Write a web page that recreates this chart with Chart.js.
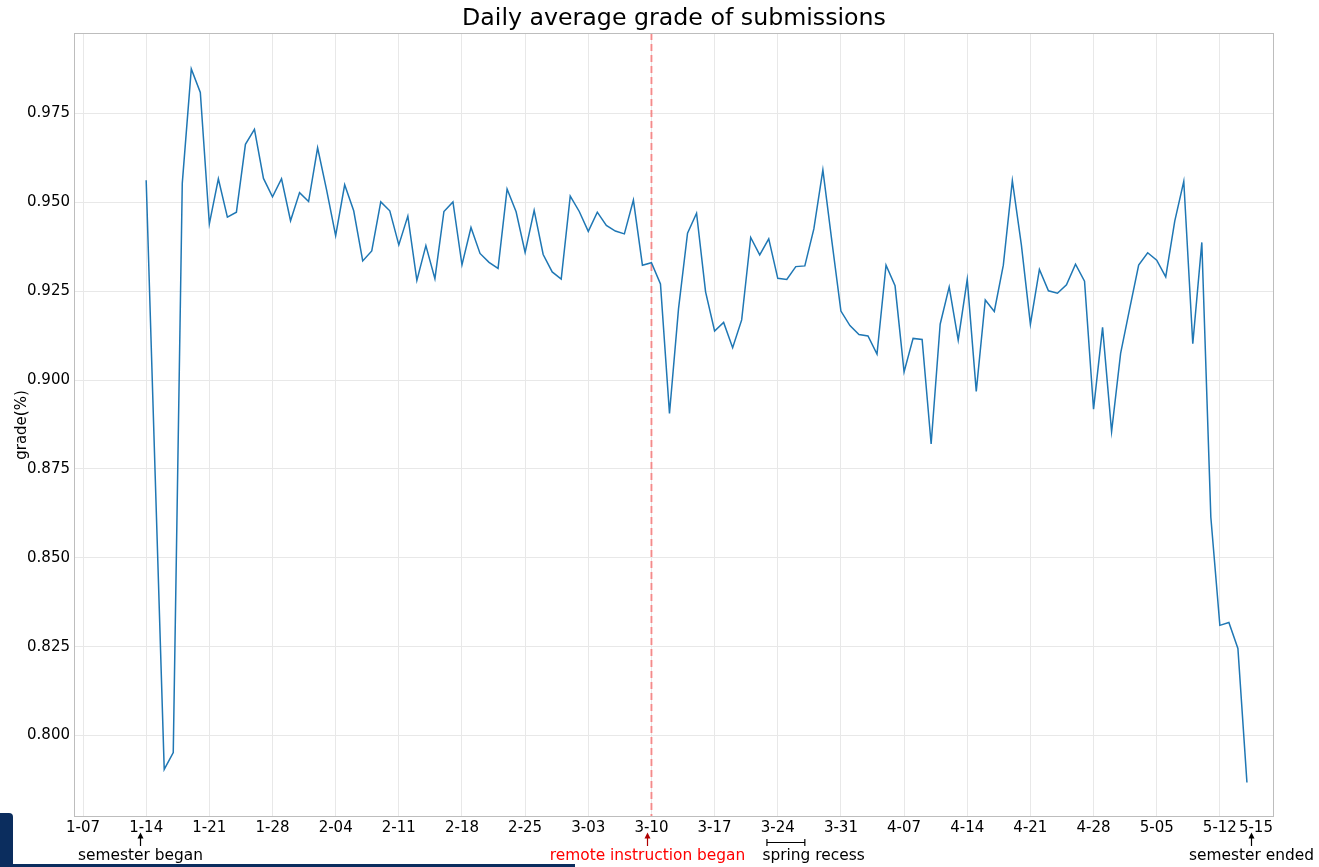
<!DOCTYPE html>
<html>
<head>
<meta charset="utf-8">
<script src="https://cdn.jsdelivr.net/npm/chart.js@4"></script>
<style>
  html, body { margin: 0; padding: 0; background: #fff; }
  #wrap { position: relative; width: 1319px; height: 867px; overflow: hidden; }
  #tab { position: absolute; left: 0; top: 813px; width: 13px; height: 54px; background: #0b2d5e; border-top-right-radius: 4px; }
  #bar { position: absolute; left: 0; top: 864px; width: 575px; height: 3px; background: #0b2d5e; }
</style>
</head>
<body>
<div id="wrap">
  <canvas id="c" width="1319" height="867"></canvas>
  <div id="tab"></div>
  <div id="bar"></div>
</div>
<script>
// daily average grade, 1-14 .. 5-15 (index = days since 1-14)
const grades = [
  0.9562, 0.8730, 0.7905, 0.7952, 0.9553, 0.9875, 0.9809, 0.9439, 0.9566, 0.9458,
  0.9472, 0.9663, 0.9705, 0.9567, 0.9515, 0.9566, 0.9448, 0.9527, 0.9502, 0.9653,
  0.9534, 0.9406, 0.9549, 0.9476, 0.9335, 0.9363, 0.9501, 0.9476, 0.9380, 0.9461,
  0.9280, 0.9378, 0.9285, 0.9474, 0.9501, 0.9324, 0.9429, 0.9356, 0.9331, 0.9314,
  0.9537, 0.9473, 0.9359, 0.9477, 0.9353, 0.9304, 0.9284, 0.9517, 0.9474, 0.9418,
  0.9472, 0.9435, 0.9419, 0.9411, 0.9506, 0.9323, 0.9330, 0.9270, 0.8906, 0.9200,
  0.9413, 0.9469, 0.9248, 0.9138, 0.9162, 0.9091, 0.9169, 0.9401, 0.9352, 0.9397,
  0.9286, 0.9283, 0.9319, 0.9321, 0.9425, 0.9591, 0.9390, 0.9194, 0.9153, 0.9128,
  0.9124, 0.9073, 0.9323, 0.9265, 0.9023, 0.9117, 0.9114, 0.8820, 0.9157, 0.9262,
  0.9112, 0.9283, 0.8968, 0.9225, 0.9193, 0.9323, 0.9561, 0.9380, 0.9157, 0.9311,
  0.9251, 0.9244, 0.9268, 0.9326, 0.9278, 0.8918, 0.9148, 0.8855, 0.9075, 0.9200,
  0.9323, 0.9358, 0.9337, 0.9290, 0.9447, 0.9559, 0.9102, 0.9387, 0.8614, 0.8310,
  0.8318, 0.8245, 0.7868
]

const tickDays = [-7, 0, 7, 14, 21, 28, 35, 42, 49, 56, 63, 70, 77, 84, 91, 98, 105, 112, 119, 122]
const tickLabels = ['1-07', '1-14', '1-21', '1-28', '2-04', '2-11', '2-18', '2-25', '3-03', '3-10',
  '3-17', '3-24', '3-31', '4-07', '4-14', '4-21', '4-28', '5-05', '5-12', '5-15']
const yTicks = [0.8, 0.825, 0.85, 0.875, 0.9, 0.925, 0.95, 0.975]

const remoteDay = 56 // 3-10
const recess = [68.8, 73]
const notes = [
  { day: -0.65, text: 'semester began', color: '#000', arrow: '#000' },
  { day: 55.55, text: 'remote instruction began', color: '#ff0000', arrow: '#b00000' },
  { day: 122.45, text: 'semester ended', color: '#000', arrow: '#000' }
]

const FONT = 'DejaVu Sans'
const TICK_SIZE = 15
const lastTick = tickDays[tickDays.length - 1]

const extras = {
  id: 'extras',
  beforeDatasetsDraw(chart) {
    const { ctx, chartArea: a, scales: { x } } = chart
    const px = x.getPixelForValue(remoteDay)
    ctx.save()
    ctx.strokeStyle = 'rgba(255, 0, 0, 0.4)'
    ctx.lineWidth = 2
    ctx.setLineDash([7, 4])
    ctx.beginPath()
    ctx.moveTo(px, a.top)
    ctx.lineTo(px, a.bottom)
    ctx.stroke()
    ctx.restore()
  },
  afterDraw(chart) {
    const { ctx, chartArea: a, scales: { x } } = chart
    ctx.save()
    // frame
    ctx.strokeStyle = '#bdbdbd'
    ctx.lineWidth = 1
    ctx.strokeRect(a.left + 0.5, a.top + 0.5, a.right - a.left - 1, a.bottom - a.top - 1)

    // title
    ctx.fillStyle = '#000'
    ctx.font = '23.7px "' + FONT + '"'
    ctx.textAlign = 'center'
    ctx.textBaseline = 'middle'
    ctx.fillText('Daily average grade of submissions', (a.left + a.right) / 2, 18.5)

    // last tick label, nudged right so it clears 5-12
    ctx.font = TICK_SIZE + 'px "' + FONT + '"'
    ctx.textBaseline = 'middle'
    ctx.fillText(tickLabels[tickLabels.length - 1], x.getPixelForValue(lastTick) + 9,
      a.bottom + 2 + TICK_SIZE * 1.2 / 2)

    // arrows + notes
    ctx.font = '15.4px "' + FONT + '"'
    ctx.textBaseline = 'alphabetic'
    notes.forEach(n => {
      const px = Math.round(x.getPixelForValue(n.day)) + 0.5
      ctx.strokeStyle = n.arrow
      ctx.fillStyle = n.arrow
      ctx.lineWidth = 1.2
      ctx.beginPath()
      ctx.moveTo(px, 846)
      ctx.lineTo(px, 837)
      ctx.stroke()
      ctx.beginPath()
      ctx.moveTo(px, 832.5)
      ctx.lineTo(px - 3, 838.5)
      ctx.lineTo(px + 3, 838.5)
      ctx.closePath()
      ctx.fill()
      ctx.fillStyle = n.color
      ctx.textAlign = 'center'
      ctx.fillText(n.text, px, 860)
    })

    // spring recess bracket
    const x0 = x.getPixelForValue(recess[0])
    const x1 = x.getPixelForValue(recess[1])
    ctx.strokeStyle = '#000'
    ctx.lineWidth = 1.2
    ctx.beginPath()
    ctx.moveTo(x0, 842.5); ctx.lineTo(x1, 842.5)
    ctx.moveTo(x0, 839); ctx.lineTo(x0, 846)
    ctx.moveTo(x1, 839); ctx.lineTo(x1, 846)
    ctx.stroke()
    ctx.fillStyle = '#000'
    ctx.textAlign = 'left'
    ctx.fillText('spring recess', x0 - 4.5, 860)
    ctx.restore()
  }
}

new Chart(document.getElementById('c').getContext('2d'), {
  type: 'line',
  data: {
    datasets: [{
      data: grades.map((g, i) => ({ x: i, y: g })),
      borderColor: '#1f77b4',
      borderWidth: 1.5,
      pointRadius: 0,
      tension: 0,
      fill: false
    }]
  },
  options: {
    responsive: false,
    animation: false,
    devicePixelRatio: 1,
    layout: { padding: { left: 0, right: 45, top: 33, bottom: 0 } },
    plugins: { legend: { display: false }, tooltip: { enabled: false } },
    scales: {
      x: {
        type: 'linear',
        min: -8,
        max: 125,
        afterBuildTicks: (s) => { s.ticks = tickDays.map(v => ({ value: v })) },
        afterFit: (s) => { s.height = 50 },
        grid: {
          color: (c) => (c.tick && c.tick.value === lastTick ? 'rgba(0,0,0,0)' : '#e8e8e8'),
          drawTicks: false
        },
        border: { display: false },
        ticks: {
          autoSkip: false,
          maxRotation: 0,
          padding: 2,
          color: '#000',
          font: { family: FONT, size: TICK_SIZE },
          callback: (v) => {
            const i = tickDays.indexOf(v)
            return i < 0 || v === lastTick ? '' : tickLabels[i]
          }
        }
      },
      y: {
        min: 0.7771,
        max: 0.9976,
        afterBuildTicks: (s) => { s.ticks = yTicks.map(v => ({ value: v })) },
        afterFit: (s) => { s.width = 74 },
        grid: { color: '#e8e8e8', drawTicks: false },
        border: { display: false },
        title: {
          display: true,
          text: 'grade(%)',
          color: '#000',
          font: { family: FONT, size: 15 },
          padding: { top: 13, bottom: 0 }
        },
        ticks: {
          padding: 4,
          color: '#000',
          font: { family: FONT, size: TICK_SIZE },
          callback: (v) => v.toFixed(3)
        }
      }
    }
  },
  plugins: [extras]
})
</script>
</body>
</html>
